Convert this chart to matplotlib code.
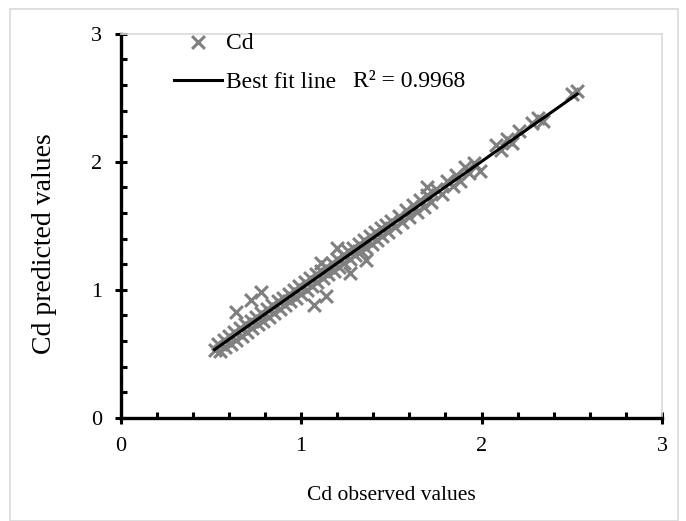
import numpy as np
import matplotlib.pyplot as plt
from matplotlib.ticker import MultipleLocator
from matplotlib.patches import Rectangle

plt.rcParams['font.family'] = ['Liberation Serif', 'DejaVu Serif']

# observed / predicted Cd values
observed = [0.52, 0.54, 0.55, 0.57, 0.58, 0.60, 0.61, 0.63, 0.64, 0.66, 0.67, 0.69, 0.70, 0.72,
            0.73, 0.75, 0.76, 0.78, 0.79, 0.81, 0.82, 0.84, 0.85, 0.87, 0.88, 0.90, 0.91, 0.93,
            0.94, 0.96, 0.97, 0.99, 1.00, 1.02, 1.03, 1.05, 1.06, 1.08, 1.09, 1.11, 1.12, 1.14,
            1.15, 1.17, 1.18, 1.20, 1.21, 1.23, 1.24, 1.26, 1.27, 1.29, 1.30, 1.32, 1.33, 1.35,
            1.36, 1.38, 1.39, 1.41, 1.42, 1.44, 1.45, 1.47, 1.48, 1.50, 1.52, 1.54, 1.56, 1.58,
            1.60, 1.62, 1.64, 1.66, 1.68, 1.70, 1.72, 1.75, 1.78, 1.81, 1.84, 1.86, 1.88, 1.91,
            1.93, 1.96, 1.99, 2.08, 2.11, 2.14, 2.17, 2.21, 2.28, 2.31, 2.34, 2.50, 2.53,
            0.64, 0.72, 0.78, 1.07, 1.14, 1.11, 1.20, 1.27, 1.36, 1.70]
predicted = [0.53, 0.58, 0.52, 0.61, 0.55, 0.64, 0.58, 0.67, 0.61, 0.70, 0.64, 0.73, 0.67, 0.76,
             0.70, 0.79, 0.73, 0.82, 0.76, 0.85, 0.79, 0.88, 0.82, 0.91, 0.85, 0.94, 0.88, 0.97,
             0.91, 1.00, 0.94, 1.03, 0.97, 1.06, 1.00, 1.09, 1.03, 1.12, 1.06, 1.15, 1.09, 1.18,
             1.12, 1.21, 1.15, 1.24, 1.18, 1.27, 1.21, 1.30, 1.24, 1.33, 1.27, 1.36, 1.30, 1.39,
             1.33, 1.42, 1.36, 1.45, 1.39, 1.48, 1.42, 1.51, 1.45, 1.54, 1.49, 1.58, 1.53, 1.62,
             1.57, 1.66, 1.61, 1.70, 1.65, 1.74, 1.69, 1.79, 1.75, 1.85, 1.81, 1.90, 1.85, 1.96,
             1.91, 1.99, 1.93, 2.13, 2.09, 2.18, 2.15, 2.24, 2.30, 2.34, 2.32, 2.53, 2.55,
             0.83, 0.92, 0.98, 0.88, 0.95, 1.21, 1.33, 1.13, 1.23, 1.80]
r2_text = "R² = 0.9968"

fig = plt.figure(figsize=(6.86, 5.21), dpi=100)
fig.patches.append(Rectangle((10 / 686, 0.0), 668 / 686, 512 / 521, transform=fig.transFigure,
                             fill=False, edgecolor='#d9d9d9', linewidth=1.2))
ax = fig.add_axes([0.176, 0.198, 0.789, 0.737])

ax.scatter(observed, predicted, marker='x', s=85, linewidths=2.2, color='#808080',
           label='Cd', zorder=2)

slope, intercept = np.polyfit(observed, predicted, 1)
xs = np.array([min(observed), max(observed)])
ax.plot(xs, slope * xs + intercept, color='black', linewidth=2.2, label='Best fit line', zorder=3)

ax.set_xlim(0, 3)
ax.set_ylim(0, 3)
ax.xaxis.set_major_locator(MultipleLocator(1))
ax.yaxis.set_major_locator(MultipleLocator(1))
ax.xaxis.set_minor_locator(MultipleLocator(0.2))
ax.yaxis.set_minor_locator(MultipleLocator(0.2))
ax.tick_params(which='major', direction='inout', length=9, width=2.2, labelsize=16, pad=9)
ax.tick_params(which='minor', direction='in', length=4, width=2.2)

for side in ['left', 'bottom']:
    ax.spines[side].set_linewidth(2.4)
    ax.spines[side].set_color('black')
for side in ['top', 'right']:
    ax.spines[side].set_linewidth(1.2)
    ax.spines[side].set_color('#d9d9d9')

ax.set_xlabel('Cd observed values', fontsize=15.5, labelpad=22)
ax.set_ylabel('Cd predicted values', fontsize=20)
ax.yaxis.set_label_coords(-0.118, 0.455)

ax.legend(loc='upper left', bbox_to_anchor=(0.06, 1.06), frameon=False, fontsize=17,
          handlelength=2.0, handletextpad=0.2, labelspacing=0.75)
ax.text(0.43, 0.876, r2_text, transform=ax.transAxes, fontsize=17, va='center')

fig.savefig('out.png', dpi=100)
